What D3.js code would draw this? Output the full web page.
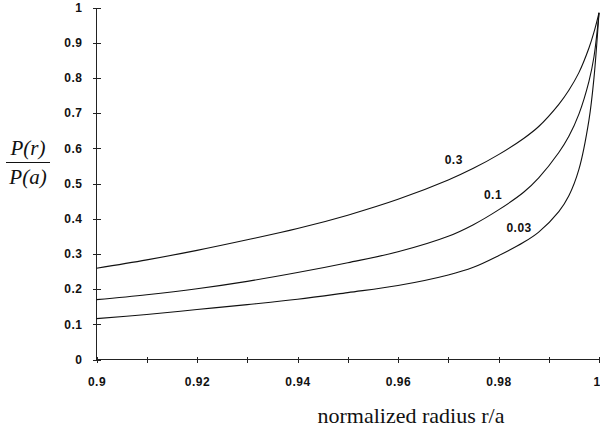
<!DOCTYPE html>
<html lang="en">
<head>
  <meta charset="UTF-8">
  <title>P(r)/P(a)</title>
  <style>
    body { margin: 0; background: #fff; }
    .axis path, .axis line { fill: none; stroke: #222; shape-rendering: crispEdges; }
    .axis text { font-family: "Liberation Sans", Arial, sans-serif; font-size: 12px; font-weight: bold; fill: #111; letter-spacing: 0.5px; }
    .curve { fill: none; stroke: #111; stroke-width: 1.1; }
    .clabel { font-family: "Liberation Sans", Arial, sans-serif; font-size: 12px; font-weight: bold; fill: #111; letter-spacing: 0.5px; }
  </style>
</head>
<body>
  <script src="https://cdn.jsdelivr.net/npm/d3@7"></script>
  <script>
    // data
    var radius = [0.9, 0.91, 0.92, 0.93, 0.94, 0.95, 0.96, 0.97, 0.975, 0.98, 0.985, 0.988, 0.992, 0.994, 0.996, 0.998, 0.999, 1.0];
    var p03  = [0.259, 0.283, 0.31, 0.34, 0.372, 0.41, 0.455, 0.51, 0.543, 0.582, 0.628, 0.662, 0.725, 0.765, 0.815, 0.885, 0.93, 0.985];
    var p01  = [0.170, 0.184, 0.201, 0.222, 0.247, 0.275, 0.306, 0.35, 0.383, 0.425, 0.475, 0.516, 0.588, 0.634, 0.697, 0.79, 0.86, 0.985];
    var p003 = [0.116, 0.128, 0.142, 0.156, 0.171, 0.19, 0.21, 0.24, 0.262, 0.295, 0.333, 0.362, 0.42, 0.465, 0.54, 0.68, 0.80, 0.985];
    var seriesNames = ["0.3", "0.1", "0.03"];
    var xTicks = [0.9, 0.91, 0.92, 0.93, 0.94, 0.95, 0.96, 0.97, 0.98, 0.99, 1.0];
    var xLabels = ["0.9", "0.92", "0.94", "0.96", "0.98", "1"];
    var yTicks = [0, 0.1, 0.2, 0.3, 0.4, 0.5, 0.6, 0.7, 0.8, 0.9, 1];

    var width = 600, height = 434;
    var svg = d3.select("body").append("svg").attr("width", width).attr("height", height);

    var x = d3.scaleLinear().domain([0.9, 1]).range([96.5, 599]);
    var y = d3.scaleLinear().domain([0, 1]).range([359.5, 7.5]);

    // x axis: ticks every 0.01, labels every 0.02
    var xAxis = d3.axisBottom(x).tickValues(xTicks).tickSize(4).tickPadding(14)
      .tickFormat(function (d) {
        var s = String(+d.toFixed(2));
        return xLabels.indexOf(s) >= 0 ? s : "";
      });
    var gx = svg.append("g").attr("class", "axis").attr("transform", "translate(0," + y(0) + ")").call(xAxis);
    gx.select(".domain").attr("d", "M" + x(0.9) + ",0H" + x(1));
    gx.selectAll(".tick line").attr("y1", -3).attr("y2", 3);
    // keep the last label inside the window
    gx.selectAll(".tick text").filter(function (d) { return d === 1; })
      .attr("text-anchor", "end").attr("dx", "0.1em");

    var yAxis = d3.axisLeft(y).tickValues(yTicks).tickSize(4).tickPadding(10)
      .tickFormat(function (d) { return String(+d.toFixed(1)); });
    var gy = svg.append("g").attr("class", "axis").attr("transform", "translate(" + x(0.9) + ",0)").call(yAxis);
    gy.select(".domain").attr("d", "M0," + y(1) + "V" + y(0));
    gy.selectAll(".tick line").attr("x1", -4).attr("x2", 4);

    // curves
    var line = d3.line()
      .x(function (d) { return x(d[0]); })
      .y(function (d) { return y(d[1]); })
      .curve(d3.curveCatmullRom.alpha(0.5));
    [p03, p01, p003].forEach(function (vals) {
      svg.append("path").attr("class", "curve")
        .attr("d", line(radius.map(function (r, i) { return [r, vals[i]]; })));
    });

    // curve labels
    var labelPos = [[0.9711, 0.567], [0.9789, 0.467], [0.9841, 0.373]];
    seriesNames.forEach(function (n, i) {
      svg.append("text").attr("class", "clabel")
        .attr("x", x(labelPos[i][0])).attr("y", y(labelPos[i][1]))
        .attr("text-anchor", "middle").attr("dy", "0.35em").text(n);
    });

    // y label: P(r) / P(a)
    var yl = svg.append("g").attr("transform", "translate(28,0)")
      .style("font-family", "'Liberation Serif', 'DejaVu Serif', serif")
      .style("font-style", "italic").style("font-size", "21px").attr("fill", "#111");
    yl.append("text").attr("y", 155).attr("text-anchor", "middle").text("P(r)");
    yl.append("line").attr("x1", -22).attr("x2", 22).attr("y1", 162.5).attr("y2", 162.5)
      .attr("stroke", "#111").attr("stroke-width", 1.2);
    yl.append("text").attr("y", 184).attr("text-anchor", "middle").text("P(a)");

    // x title
    svg.append("text").attr("x", 411).attr("y", 423).attr("text-anchor", "middle")
      .style("font-family", "'Liberation Serif', 'DejaVu Serif', serif")
      .style("font-size", "22px").attr("fill", "#111")
      .text("normalized radius r/a");
  </script>
</body>
</html>
